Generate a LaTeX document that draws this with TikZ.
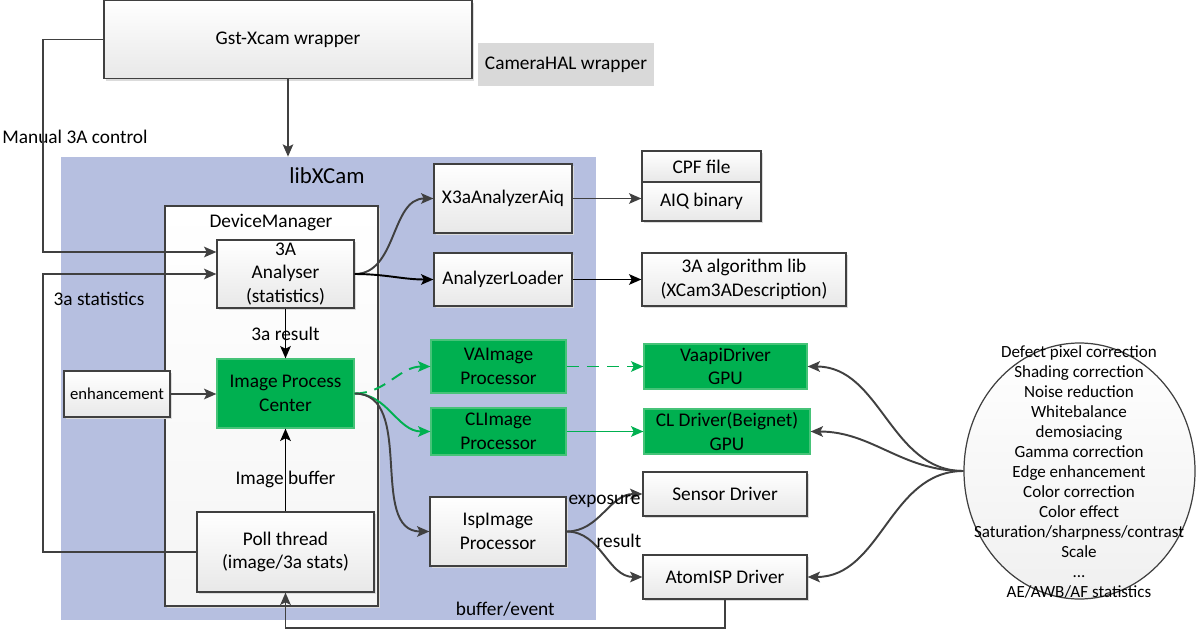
\documentclass[tikz,border=0pt]{standalone}
\usepackage{fontspec}
\setmainfont{Carlito}
\usetikzlibrary{arrows.meta,shadows,shapes.geometric}

\definecolor{libblue}{RGB}{182,191,224}
\definecolor{procgreen}{RGB}{0,176,80}
\definecolor{greenedge}{RGB}{70,195,120}
\definecolor{linegray}{RGB}{64,64,64}
\definecolor{halgray}{RGB}{217,217,217}

\tikzset{
  sz/.style 2 args={minimum width=#1*0.02cm, minimum height=#2*0.02cm},
  box/.style={draw=linegray, line width=0.7pt, top color=white, bottom color=black!9,
    inner sep=0pt, align=center,
    drop shadow={fill=black!14, opacity=1, shadow xshift=1.4pt, shadow yshift=-1.4pt}},
  gbox/.style={draw=greenedge, line width=0.7pt, fill=procgreen, inner sep=0pt, align=center},
  arr/.style={draw=linegray, line width=1.1pt, -{Stealth[length=7pt, width=6pt, inset=1.5pt]}},
  barr/.style={arr, draw=black},
  garr/.style={arr, draw=procgreen},
  gdash/.style={garr, dash pattern=on 7pt off 4.5pt}
}

\begin{document}
\begin{tikzpicture}[x=0.02cm, y=-0.02cm, font=\fontsize{11}{13.4}\selectfont]
  \useasboundingbox (0,0) rectangle (1198,629);
  \node[fill=libblue, sz={535}{463}, inner sep=0pt] (lib) at (328.5,388.5) {};
  \node[font=\fontsize{13}{15}\selectfont] (libname) at (327,176) {libXCam};
  \node[box, sz={213}{400}, bottom color=black!4] (devmgr) at (271.5,406) {};
  \node (dmname) at (271,223) {DeviceManager};

  \node[box, sz={368}{78}] (gst) at (288,39.5) {Gst-Xcam wrapper};
  \node[fill=halgray, sz={176}{43}, inner sep=0pt] (hal) at (566,64.5) {CameraHAL wrapper};

  \node[box, sz={137}{68}] (ana) at (285.5,274) {3A\\Analyser\\(statistics)};
  \node[gbox, sz={137}{69}] (ipc) at (285.5,393.5) {Image Process\\Center};
  \node[box, sz={106}{46}, font=\fontsize{9.5}{11}\selectfont] (enh) at (117,394) {enhancement};
  \node[box, sz={177}{80}] (poll) at (285.5,552) {Poll thread\\(image/3a stats)};

  \node[box, sz={138}{69}] (aiq) at (503,198.5) {X3aAnalyzerAiq};
  \node[box, sz={138}{53}] (loader) at (503,279.5) {AnalyzerLoader};
  \node[box, sz={119}{31}] (cpf) at (701.5,166.5) {CPF file};
  \node[box, sz={119}{39}] (bin) at (701.5,201.5) {AIQ binary};
  \node[box, sz={204}{53}] (alg) at (744,279.5) {3A algorithm lib\\(XCam3ADescription)};

  \node[gbox, sz={135}{53}] (va) at (498.5,366.5) {VAImage\\Processor};
  \node[gbox, sz={135}{47}] (cl) at (498.5,431.5) {CLImage\\Processor};
  \node[gbox, sz={163}{45}] (vaapi) at (725.5,366.5) {VaapiDriver\\GPU};
  \node[gbox, sz={166}{45}] (cldrv) at (727,431.5) {CL Driver(Beignet)\\GPU};

  \node[box, sz={136}{69}] (isp) at (498,531.5) {IspImage\\Processor};
  \node[box, sz={164}{44}] (sensor) at (725,494) {Sensor Driver};
  \node[box, sz={164}{44}] (atom) at (725,577) {AtomISP Driver};

  \node[ellipse, draw=linegray, line width=0.7pt, top color=white, bottom color=black!6,
    sz={231}{256}, inner sep=0pt] (isplist) at (1079.5,471) {};
  \node[align=center, font=\fontsize{9.7}{11.4}\selectfont] (featlist) at (1079,472)
    {Defect pixel correction\\Shading correction\\Noise reduction\\Whitebalance\\demosiacing\\
     Gamma correction\\Edge enhancement\\Color correction\\Color effect\\
     Saturation/sharpness/contrast\\Scale\\...\\AE/AWB/AF statistics};

  \node (manual) at (75,137) {Manual 3A control};
  \node (statlabel) at (99,299) {3a statistics};

  \coordinate (rail) at (43,0);
  \coordinate (busline) at (0,628);

  \draw[arr] (gst.south) -- (gst.south |- lib.north);
  \draw[arr] (gst.west) -- (gst.west -| rail) |- ([yshift=0.44cm]ana.west);
  \draw[arr] (poll.west) -- (poll.west -| rail) |- (ana.west);
  \draw[arr] (ana.east) to[out=0, in=180] (aiq.west);
  \draw[barr] (ana.east) to[out=0, in=180] (loader.west);
  \draw[arr] (aiq.east) -- (aiq.east -| bin.west);
  \draw[barr] (loader.east) -- (alg.west);
  \draw[barr] (ana.south) -- node[midway] {3a result} (ipc.north);
  \draw[arr] (enh.east) -- (enh.east -| ipc.west);
  \draw[barr] (poll.north) -- node[pos=0.39] {Image buffer} (ipc.south);

  \draw[gdash] (ipc.east) to[out=0, in=180] (va.west);
  \draw[garr] (ipc.east) to[out=0, in=180] (cl.west);
  \draw[arr] (ipc.east) to[out=0, in=180] (isp.west);
  \draw[gdash] (va.east) -- (vaapi.west);
  \draw[garr] (cl.east) -- (cldrv.west);

  \draw[arr] (isp.east) to[out=0, in=180] node[midway, yshift=0.22cm] {exposure} (sensor.west);
  \draw[arr] (isp.east) to[out=0, in=180] node[midway, xshift=0.29cm, yshift=0.26cm] {result} (atom.west);

  \draw[arr] (isplist.west) to[out=180, in=0] (vaapi.east);
  \draw[arr] (isplist.west) to[out=180, in=0] (cldrv.east);
  \draw[arr] (isplist.west) to[out=180, in=0] (atom.east);

  \draw[arr] (atom.south) -- (atom.south |- busline)
    -- node[above=3pt] {buffer/event} (poll.south |- busline) -- (poll.south);
\end{tikzpicture}
\end{document}
